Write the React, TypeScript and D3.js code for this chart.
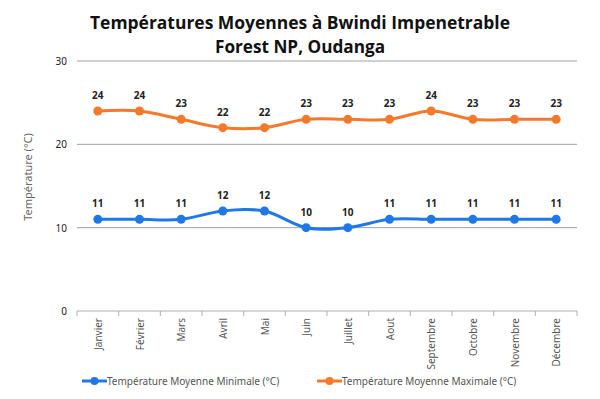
import React from "react";
import * as d3 from "d3";

const months = ["Janvier","Février","Mars","Avril","Mai","Juin","Juillet","Aout","Septembre","Octobre","Novembre","Décembre"];
const minTemps = [11,11,11,12,12,10,10,11,11,11,11,11];
const maxTemps = [24,24,23,22,22,23,23,23,24,23,23,23];
const yTicks = [0,10,20,30];

const W = 600, H = 399;
const left = 77, right = 577, top = 61, bottom = 311;

export default function App() {
  const x = d3.scaleBand<string>().domain(months).range([left, right]);
  const y = d3.scaleLinear().domain([0, 30]).range([bottom, top]);
  const cx = (m: string) => (x(m) as number) + x.bandwidth() / 2;
  const line = d3.line<number>().x((_, i) => cx(months[i])).y(d => y(d)).curve(d3.curveCardinal.tension(0));
  const series = [
    { vals: minTemps, color: "#1f77e8", name: "Température Moyenne Minimale (°C)" },
    { vals: maxTemps, color: "#f5792a", name: "Température Moyenne Maximale (°C)" },
  ];
  const font = "'Noto Sans', 'Open Sans', sans-serif";
  const tfont = "'Open Sans', 'Liberation Sans', sans-serif";
  return (
    <svg width={W} height={H} style={{ position: "absolute", left: 0, top: 0, background: "#fff" }}>
      <text x={300} y={29} textAnchor="middle" textLength={420} lengthAdjust="spacingAndGlyphs" fontFamily={tfont} fontWeight="bold" fontSize={18} fill="#111">Températures Moyennes à Bwindi Impenetrable</text>
      <text x={300} y={53} textAnchor="middle" textLength={170} lengthAdjust="spacingAndGlyphs" fontFamily={tfont} fontWeight="bold" fontSize={18} fill="#111">Forest NP, Oudanga</text>
      {yTicks.map(t => (
        <g key={t}>
          {t > 0 && <line x1={left} x2={right} y1={y(t)} y2={y(t)} stroke="#a0a0a0" strokeWidth={1} />}
          <text x={67} y={y(t) + 4} textAnchor="end" fontFamily={font} fontSize={10} fill="#222">{t}</text>
        </g>
      ))}
      <line x1={left} x2={right} y1={bottom} y2={bottom} stroke="#b0b0b0" strokeWidth={1} />
      {d3.range(months.length + 1).map(i => {
        const xx = left + i * x.bandwidth();
        return <line key={i} x1={xx} x2={xx} y1={bottom} y2={bottom + 5} stroke="#b0b0b0" />;
      })}
      {months.map(m => (
        <text key={m} transform={`translate(${cx(m) + 4},318) rotate(-90)`} textAnchor="end" fontFamily={font} fontSize={10} fill="#555">{m}</text>
      ))}
      <text transform={`translate(32,177) rotate(-90)`} textAnchor="middle" fontFamily={font} fontSize={11} fill="#666">Température (°C)</text>
      {series.map(s => (
        <g key={s.name}>
          <path d={line(s.vals) || ""} fill="none" stroke={s.color} strokeWidth={3} />
          {s.vals.map((v, i) => (
            <g key={i}>
              <circle cx={cx(months[i])} cy={y(v)} r={4.5} fill={s.color} />
              <text x={cx(months[i])} y={y(v) - 12} textAnchor="middle" fontFamily={font} fontWeight="bold" fontSize={10} fill="#222">{v}</text>
            </g>
          ))}
        </g>
      ))}
      {series.map((s, i) => {
        const lx = i === 0 ? 82 : 317;
        return (
          <g key={s.name}>
            <line x1={lx} x2={lx + 25} y1={381} y2={381} stroke={s.color} strokeWidth={3} />
            <circle cx={lx + 12.5} cy={381} r={4} fill={s.color} />
            <text x={lx + 25} y={385} fontFamily={font} fontSize={10} fill="#555">{s.name}</text>
          </g>
        );
      })}
    </svg>
  );
}
